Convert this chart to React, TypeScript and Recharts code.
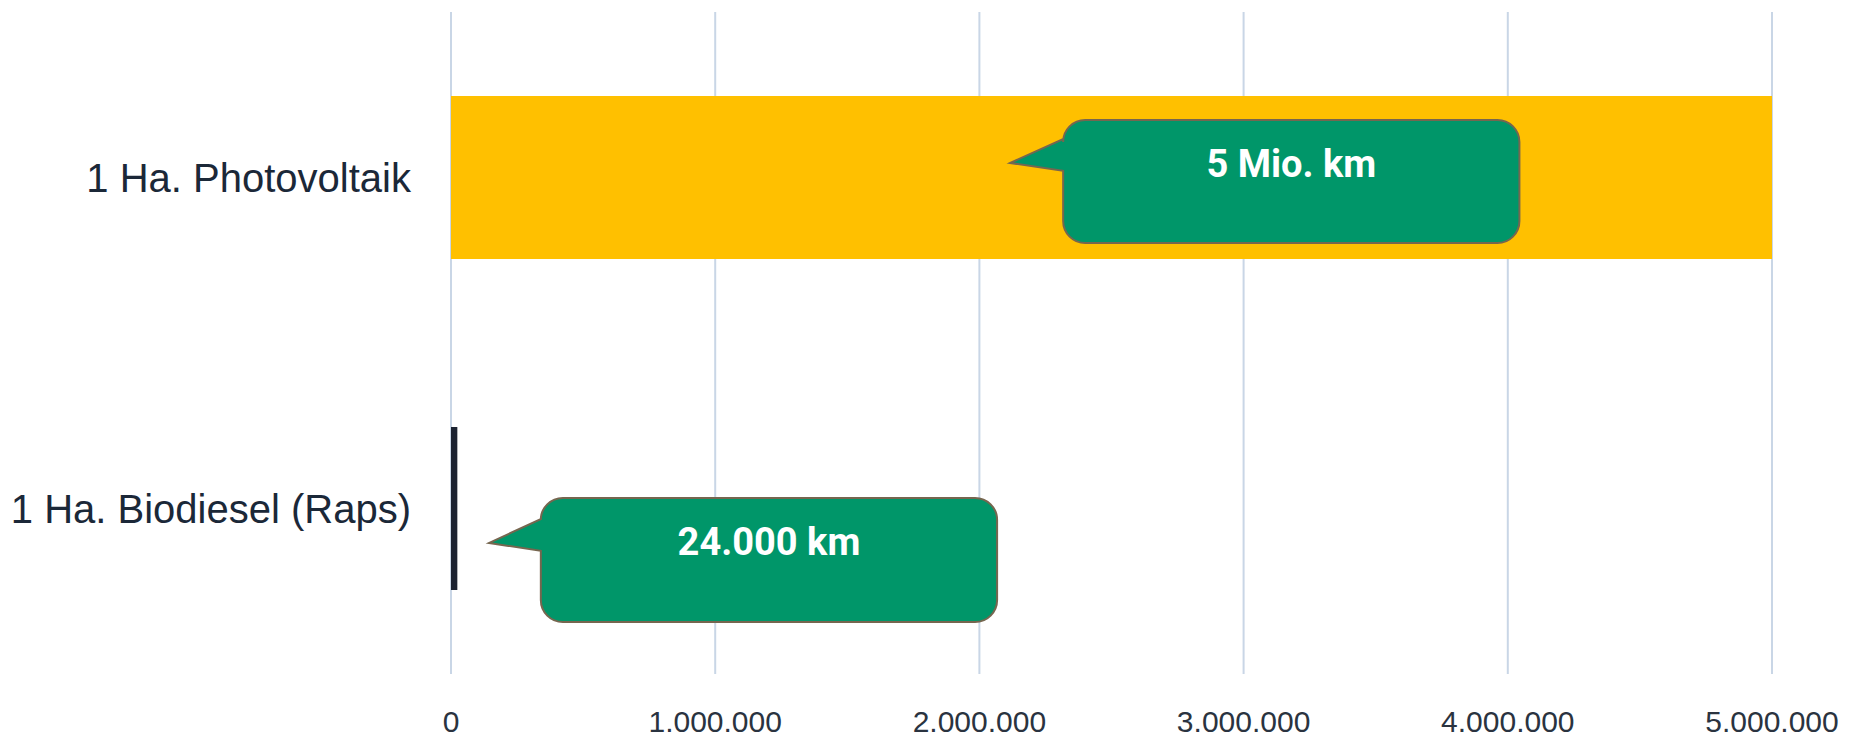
import React from 'react';
import { BarChart, Bar, XAxis, YAxis, CartesianGrid, Cell, ReferenceArea } from 'recharts';

const categories = ['1 Ha. Photovoltaik', '1 Ha. Biodiesel (Raps)'];
const distanceKm = [5000000, 24000];
const xTicks = [0, 1000000, 2000000, 3000000, 4000000, 5000000];
const calloutTexts = ['5 Mio. km', '24.000 km'];
// callout anchors along the value axis (km)
const calloutTipKm = [2116000, 144000];
const calloutBoxStartKm = [2317000, 340000];
const calloutBoxEndKm = [4044000, 2067000];

const barColors = ['#FFC000', '#1C2331'];

// vertical placement of each callout inside its category band (fractions of band height)
const calloutLayout = [
  { top: 0.326, bottom: 0.698, tip: 0.456, baseTop: 0.384, baseBottom: 0.48, text: 0.456 },
  { top: 0.468, bottom: 0.843, tip: 0.604, baseTop: 0.532, baseBottom: 0.628, text: 0.598 },
];

const data = categories.map((name, i) => ({ name, value: distanceKm[i] }));

const fmt = (v: number) => String(v).replace(/\B(?=(\d{3})+(?!\d))/g, '.');

const makeCallout = (i: number) => (props: any) => {
  const { x, y, width, height } = props;
  const lay = calloutLayout[i];
  const tipKm = calloutTipKm[i];
  const endKm = calloutBoxEndKm[i];
  const pxPerKm = width / (endKm - tipKm);
  const tipX = x;
  const L = x + (calloutBoxStartKm[i] - tipKm) * pxPerKm;
  const R = x + width;
  const T = y + lay.top * height;
  const B = y + lay.bottom * height;
  const tipY = y + lay.tip * height;
  const bt = y + lay.baseTop * height;
  const bb = y + lay.baseBottom * height;
  const r = 22;
  const d = `M ${L + r} ${T} H ${R - r} A ${r} ${r} 0 0 1 ${R} ${T + r} V ${B - r} A ${r} ${r} 0 0 1 ${R - r} ${B} H ${L + r} A ${r} ${r} 0 0 1 ${L} ${B - r} V ${bb} L ${tipX} ${tipY} L ${L} ${bt} V ${T + r} A ${r} ${r} 0 0 1 ${L + r} ${T} Z`;
  return (
    <g>
      <path d={d} fill="#009669" stroke="#76664F" strokeWidth={2} />
      <text
        x={(L + R) / 2}
        y={y + lay.text * height}
        dy="0.36em"
        textAnchor="middle"
        fill="#FFFFFF"
        fontFamily="Roboto, 'Noto Sans', sans-serif"
        fontWeight={700}
        fontSize={38}
      >
        {calloutTexts[i]}
      </text>
    </g>
  );
};

export default function App() {
  return (
    <div style={{ width: 1856, height: 740, background: '#FFFFFF' }}>
      <style>{'body{margin:0;}'}</style>
      <BarChart
        width={1856}
        height={740}
        data={data}
        layout="vertical"
        margin={{ top: 12, right: 84, bottom: 0, left: 0 }}
      >
        <CartesianGrid horizontal={false} stroke="#C9D6E6" strokeWidth={2} />
        <XAxis
          type="number"
          domain={[0, 5000000]}
          ticks={xTicks}
          tickFormatter={fmt}
          axisLine={false}
          tickLine={false}
          tickSize={0}
          tickMargin={37}
          height={66}
          interval={0}
          tick={{ fill: '#2A3340', fontSize: 30, fontFamily: "'Liberation Sans', Arial, sans-serif" }}
        />
        <YAxis
          type="category"
          dataKey="name"
          width={451}
          axisLine={false}
          tickLine={false}
          tickSize={0}
          tickMargin={40}
          tick={{ fill: '#1B2838', fontSize: 40, fontFamily: "'Liberation Sans', Arial, sans-serif" }}
        />
        <Bar dataKey="value" barSize={163} isAnimationActive={false}>
          {data.map((d, i) => (
            <Cell key={d.name} fill={barColors[i]} />
          ))}
        </Bar>
        {categories.map((c, i) => (
          <ReferenceArea
            key={c}
            x1={calloutTipKm[i]}
            x2={calloutBoxEndKm[i]}
            y1={c}
            y2={c}
            ifOverflow="visible"
            zIndex={2500}
            shape={makeCallout(i)}
          />
        ))}
      </BarChart>
    </div>
  );
}
